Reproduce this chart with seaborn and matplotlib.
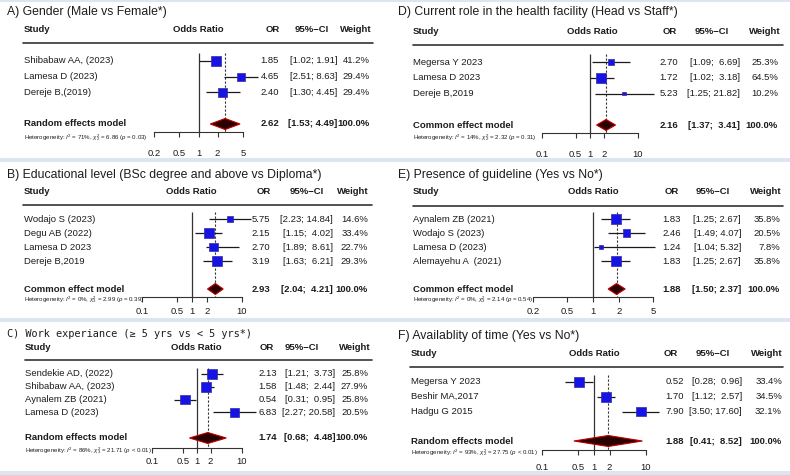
import matplotlib
matplotlib.use("Agg")
import matplotlib.pyplot as plt
import matplotlib.transforms as mtransforms
from matplotlib.lines import Line2D
from matplotlib.patches import Rectangle
import seaborn as sns
import pandas as pd

# ---- data ----
a_title = "A) Gender (Male vs Female*)"
a_study = ["Shibabaw AA, (2023)", "Lamesa D (2023)", "Dereje B,(2019)"]
a_or = [1.85, 4.65, 2.40]
a_lo = [1.02, 2.51, 1.30]
a_hi = [1.91, 8.63, 4.45]
a_wt = [41.2, 29.4, 29.4]
a_pool = [2.62, 1.53, 4.49]
a_model = "Random effects model"
a_het = r"Heterogeneity: $I^2$ = 71%, $\chi^2_2$ = 6.86 ($p$ = 0.03)"
a_ticks = [0.2, 0.5, 1, 2, 5]

b_title = "B) Educational level (BSc degree and above vs Diploma*)"
b_study = ["Wodajo S (2023)", "Degu AB (2022)", "Lamesa D 2023", "Dereje B,2019"]
b_or = [5.75, 2.15, 2.70, 3.19]
b_lo = [2.23, 1.15, 1.89, 1.63]
b_hi = [14.84, 4.02, 8.61, 6.21]
b_wt = [14.6, 33.4, 22.7, 29.3]
b_pool = [2.93, 2.04, 4.21]
b_model = "Common effect model"
b_het = r"Heterogeneity: $I^2$ = 0%, $\chi^2_3$ = 2.99 ($p$ = 0.39)"
b_ticks = [0.1, 0.5, 1, 2, 10]

c_title = "C) Work experiance (≥ 5 yrs vs < 5 yrs*)"
c_study = ["Sendekie AD, (2022)", "Shibabaw AA, (2023)", "Aynalem ZB (2021)", "Lamesa D (2023)"]
c_or = [2.13, 1.58, 0.54, 6.83]
c_lo = [1.21, 1.48, 0.31, 2.27]
c_hi = [3.73, 2.44, 0.95, 20.58]
c_wt = [25.8, 27.9, 25.8, 20.5]
c_pool = [1.74, 0.68, 4.48]
c_model = "Random effects model"
c_het = r"Heterogeneity: $I^2$ = 86%, $\chi^2_3$ = 21.71 ($p$ < 0.01)"
c_ticks = [0.1, 0.5, 1, 2, 10]

d_title = "D) Current role in the health facility (Head vs Staff*)"
d_study = ["Megersa Y 2023", "Lamesa D 2023", "Dereje B,2019"]
d_or = [2.70, 1.72, 5.23]
d_lo = [1.09, 1.02, 1.25]
d_hi = [6.69, 3.18, 21.82]
d_wt = [25.3, 64.5, 10.2]
d_pool = [2.16, 1.37, 3.41]
d_model = "Common effect model"
d_het = r"Heterogeneity: $I^2$ = 14%, $\chi^2_2$ = 2.32 ($p$ = 0.31)"
d_ticks = [0.1, 0.5, 1, 2, 10]

e_title = "E) Presence of guideline (Yes vs No*)"
e_study = ["Aynalem ZB (2021)", "Wodajo S (2023)", "Lamesa D (2023)", "Alemayehu A  (2021)"]
e_or = [1.83, 2.46, 1.24, 1.83]
e_lo = [1.25, 1.49, 1.04, 1.25]
e_hi = [2.67, 4.07, 5.32, 2.67]
e_wt = [35.8, 20.5, 7.8, 35.8]
e_pool = [1.88, 1.50, 2.37]
e_model = "Common effect model"
e_het = r"Heterogeneity: $I^2$ = 0%, $\chi^2_3$ = 2.14 ($p$ = 0.54)"
e_ticks = [0.2, 0.5, 1, 2, 5]

f_title = "F) Availablity of time (Yes vs No*)"
f_study = ["Megersa Y 2023", "Beshir MA,2017", "Hadgu G 2015"]
f_or = [0.52, 1.70, 7.90]
f_lo = [0.28, 1.12, 3.50]
f_hi = [0.96, 2.57, 17.60]
f_wt = [33.4, 34.5, 32.1]
f_pool = [1.88, 0.41, 8.52]
f_model = "Random effects model"
f_het = r"Heterogeneity: $I^2$ = 93%, $\chi^2_2$ = 27.75 ($p$ < 0.01)"
f_ticks = [0.1, 0.5, 1, 2, 10]

# ---- layout in pixels (figure is 790 x 475) ----
W, H = 790, 475
lay_a = dict(title=(7, 12), study=24, odds=198, or_h=280, or_v=279, ci_h=312, ci_v=337, wt_h=372, wt_v=370,
             line=(23, 373), head=30, hline=43, row1=61, summ=124, axis=132, ax_x=(154, 243), lab=154, het=138)
lay_b = dict(title=(7, 175), study=24, odds=191, or_h=271, or_v=270, ci_h=307, ci_v=333, wt_h=369, wt_v=368,
             line=(23, 372), head=192, hline=205, row1=219, summ=289, axis=297, ax_x=(142, 242), lab=312, het=300)
lay_c = dict(title=(7, 334), study=25, odds=196, or_h=274, or_v=277, ci_h=302, ci_v=335, wt_h=371, wt_v=368,
             line=(25, 372), head=348, hline=360, row1=374, summ=438, axis=448, ax_x=(152, 242), lab=462, het=451)
lay_d = dict(title=(398, 12), study=413, odds=592, or_h=677, or_v=678, ci_h=712, ci_v=740, wt_h=781, wt_v=778,
             line=(413, 783), head=32, hline=45, row1=62, summ=125, axis=133, ax_x=(542, 638), lab=155, het=138)
lay_e = dict(title=(398, 175), study=413, odds=593, or_h=679, or_v=681, ci_h=713, ci_v=741, wt_h=782, wt_v=780,
             line=(413, 783), head=192, hline=206, row1=219, summ=289, axis=297, ax_x=(533, 653), lab=312, het=300)
lay_f = dict(title=(398, 336), study=411, odds=594, or_h=678, or_v=684, ci_h=713, ci_v=742, wt_h=783, wt_v=782,
             line=(410, 783), head=353, hline=367, row1=382, summ=441, axis=450, ax_x=(542, 646), lab=468, het=453)

sns.set_style("white")
plt.rcParams['font.family'] = ['Liberation Sans', 'DejaVu Sans']
plt.rcParams['mathtext.fontset'] = 'custom'
plt.rcParams['mathtext.rm'] = 'Liberation Sans'
plt.rcParams['mathtext.it'] = 'Liberation Sans:italic'

fig = plt.figure(figsize=(7.9, 4.75), dpi=100)

# light blue separator bands
for y0, y1 in [(0, 2), (158, 162), (318, 322), (471, 475)]:
    fig.add_artist(Rectangle((0, 1 - y1 / H), 1, (y1 - y0) / H, transform=fig.transFigure,
                             color='#dce6f2', lw=0))

TXT = '#1c1c1c'
FS = 6.8


def fx(px):
    return px / W


def fy(py):
    return 1 - py / H


def draw_panel(title, study, ors, lo, hi, wt, pool, model, het, ticks, L, title_font=None):
    k = len(study)
    step = (L['summ'] - L['row1']) / (k + 1)
    y_top = 1 - (L['row1'] - L['hline']) / step
    y_bot = (k + 2) + (L['axis'] - L['summ']) / step
    x0, x1 = L['ax_x']
    ax = fig.add_axes([fx(x0), fy(L['axis']), (x1 - x0) / W, (L['axis'] - L['hline']) / H])
    ax.set_xscale('log')
    ax.set_xlim(ticks[0], ticks[-1])
    ax.set_ylim(y_bot, y_top)
    ax.patch.set_alpha(0)
    for s in ['top', 'left', 'right']:
        ax.spines[s].set_visible(False)
    ax.spines['bottom'].set_linewidth(0.8)
    ax.spines['bottom'].set_color('#333333')
    ax.set_yticks([])
    ax.minorticks_off()
    ax.set_xticks(ticks)
    ax.set_xticklabels([f"{t:g}" for t in ticks])
    pad = (L['lab'] - L['axis'] - 5 - 5) * 0.72
    ax.tick_params(axis='x', which='major', direction='out', length=3.6, width=0.8,
                   color='#333333', labelsize=FS, pad=pad, bottom=True, labelcolor=TXT)
    ax.tick_params(axis='x', which='minor', bottom=False)

    rows = list(range(1, k + 1))
    srow = k + 2
    # reference line at 1 and dotted pooled line
    ax.vlines(1, 0.5, y_bot, color='#333333', lw=0.9, zorder=1)
    ax.vlines(pool[0], 0.5, y_bot, color='#333333', lw=0.8, linestyles=(0, (2, 1.6)), zorder=1)
    # confidence intervals
    ax.hlines(rows, lo, hi, color='#1a1a1a', lw=0.9, clip_on=False, zorder=2)
    df = pd.DataFrame({'OR': ors, 'row': rows, 'w': wt})
    sns.scatterplot(data=df, x='OR', y='row', size='w', sizes=(0, 52), size_norm=(0, max(wt)),
                    marker='s', color='#1414e6', edgecolor='#3a2a9a', linewidth=0.5,
                    legend=False, ax=ax, zorder=3, clip_on=False)
    ax.set_xlabel('')
    ax.set_ylabel('')
    # pooled diamond
    hd = 5.5 / step
    ax.fill([pool[1], pool[0], pool[2], pool[0]], [srow, srow - hd, srow, srow + hd],
            facecolor='#2a0000', edgecolor='#c00000', lw=0.8, zorder=3, clip_on=False)

    tr = mtransforms.blended_transform_factory(fig.transFigure, ax.transData)
    # title and header
    fig.text(fx(L['title'][0]), fy(L['title'][1]), title, fontsize=8.8 if title_font is None else 7.4,
             va='center', ha='left', color=TXT, family=title_font)
    hy = fy(L['head'])
    hkw = dict(fontsize=FS, fontweight='bold', va='center', color=TXT)
    fig.text(fx(L['study']), hy, "Study", ha='left', **hkw)
    fig.text(fx(L['odds']), hy, "Odds Ratio", ha='center', **hkw)
    fig.text(fx(L['or_h']), hy, "OR", ha='right', **hkw)
    fig.text(fx(L['ci_h']), hy, "95%\u2212CI", ha='center', **hkw)
    fig.text(fx(L['wt_h']), hy, "Weight", ha='right', **hkw)
    fig.add_artist(Line2D([fx(L['line'][0]), fx(L['line'][1])], [fy(L['hline'])] * 2,
                          transform=fig.transFigure, color='#333333', lw=1.2))

    wd = max(len(f"{v:.2f}") for v in hi + [pool[2]])
    rkw = dict(fontsize=FS, va='center', color=TXT, transform=tr, clip_on=False)
    for r, name, o, l, h, w in zip(rows, study, ors, lo, hi, wt):
        ax.text(fx(L['study']), r, name, ha='left', **rkw)
        ax.text(fx(L['or_v']), r, f"{o:.2f}", ha='right', **rkw)
        ax.text(fx(L['ci_v']), r, f"[{l:.2f}; {h:>{wd}.2f}]", ha='right', **rkw)
        ax.text(fx(L['wt_v']), r, f"{w:.1f}%", ha='right', **rkw)
    ax.text(fx(L['study']), srow, model, ha='left', fontweight='bold', **rkw)
    ax.text(fx(L['or_v']), srow, f"{pool[0]:.2f}", ha='right', fontweight='bold', **rkw)
    ax.text(fx(L['ci_v']), srow, f"[{pool[1]:.2f}; {pool[2]:>{wd}.2f}]", ha='right', fontweight='bold', **rkw)
    ax.text(fx(L['wt_v']), srow, "100.0%", ha='right', fontweight='bold', **rkw)
    fig.text(fx(L['study']), fy(L['het']), het, fontsize=4.4, va='center', ha='left', color=TXT)


draw_panel(a_title, a_study, a_or, a_lo, a_hi, a_wt, a_pool, a_model, a_het, a_ticks, lay_a)
draw_panel(b_title, b_study, b_or, b_lo, b_hi, b_wt, b_pool, b_model, b_het, b_ticks, lay_b)
draw_panel(c_title, c_study, c_or, c_lo, c_hi, c_wt, c_pool, c_model, c_het, c_ticks, lay_c,
           title_font=['DejaVu Sans Mono'])
draw_panel(d_title, d_study, d_or, d_lo, d_hi, d_wt, d_pool, d_model, d_het, d_ticks, lay_d)
draw_panel(e_title, e_study, e_or, e_lo, e_hi, e_wt, e_pool, e_model, e_het, e_ticks, lay_e)
draw_panel(f_title, f_study, f_or, f_lo, f_hi, f_wt, f_pool, f_model, f_het, f_ticks, lay_f)

fig.savefig("out.png", dpi=100)
